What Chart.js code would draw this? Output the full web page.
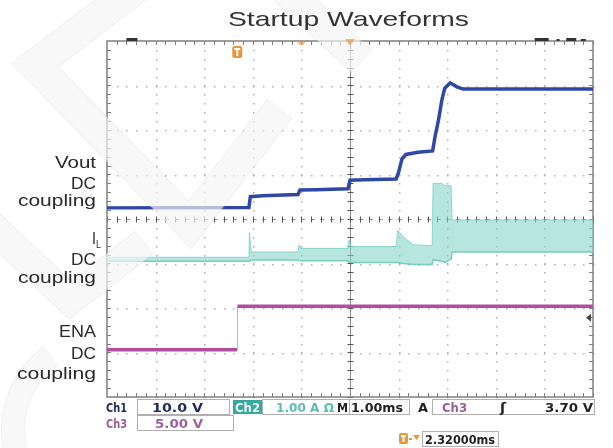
<!DOCTYPE html>
<html><head><meta charset="utf-8">
<script src="https://cdn.jsdelivr.net/npm/chart.js@4.4.1/dist/chart.umd.min.js"></script>
<style>html,body{margin:0;padding:0;background:#fff;}#wrap{width:613px;height:448px;position:relative;}</style>
</head><body><div id="wrap"><canvas id="c" width="613" height="448"></canvas></div>
<script>
// Horizontal: time in ms (1.00 ms/div, 10 div). Vertical: screen divisions from centre (8 div).
const voutTime = [0, 2.92, 2.95, 3.2, 3.93, 3.97, 4.3, 4.96, 5.0, 5.3, 5.95, 6.0, 6.07, 6.15, 6.4, 6.7, 6.75, 6.82, 6.89, 6.95, 7.06, 7.2, 7.33, 10];
const voutDiv  = [0.25, 0.26, 0.50, 0.52, 0.55, 0.65, 0.66, 0.68, 0.87, 0.88, 0.90, 1.05, 1.35, 1.45, 1.50, 1.53, 1.85, 2.22, 2.67, 2.94, 3.06, 2.97, 2.92, 2.92];

const ilTime  = [0, 2.92, 2.93, 2.97, 3.93, 3.95, 3.99, 4.96, 4.98, 5.02, 5.95, 5.98, 6.1, 6.3, 6.69, 6.71, 6.90, 6.95, 7.08, 7.10, 10];
const ilUpper = [-0.86, -0.86, -0.31, -0.74, -0.74, -0.58, -0.66, -0.66, -0.47, -0.62, -0.62, -0.25, -0.40, -0.58, -0.60, 0.80, 0.80, 0.75, 0.75, -0.02, -0.02];
const ilLower = [-0.95, -0.95, -0.95, -0.92, -0.92, -0.93, -0.94, -0.94, -0.97, -0.98, -0.98, -0.98, -1.00, -1.02, -1.02, -0.92, -0.95, -0.98, -0.90, -0.74, -0.74];

const enaTime = [0, 2.675, 2.685, 10];
const enaDiv  = [-2.94, -2.94, -1.96, -1.96];

const triggerTime = 2.68;     // T marker
const triggerLevelDiv = -2.22; // Ch3 trigger level arrow (3.70 V)

const titleText = 'Startup Waveforms';
const readout = {
  ch1: '10.0 V', ch2: '1.00 A \u03A9', time: '1.00ms', trigSrc: 'Ch3', trigLvl: '3.70 V',
  ch3: '5.00 V', pos: '2.32000ms'
};

const pts = (xs, ys) => xs.map((x, i) => ({x, y: ys[i]}));

function txt(ctx, s, x, y, font, color, w, align) {
  ctx.save();
  ctx.font = font;
  const m = ctx.measureText(s).width;
  const sx = w ? w / m : 1;
  ctx.translate(x, y);
  ctx.scale(sx, 1);
  ctx.textAlign = align || 'left';
  ctx.textBaseline = 'alphabetic';
  ctx.fillStyle = color;
  ctx.fillText(s, 0, 0);
  ctx.restore();
}

const scopeGrid = {
  id: 'scopeGrid',
  beforeDatasetsDraw(chart) {
    const {ctx, chartArea: a, scales: {x, y}} = chart;
    ctx.save();
    ctx.fillStyle = '#b0b0b0';
    for (let k = 1; k < 10; k++) {
      if (k === 5) continue;
      const px = Math.round(x.getPixelForValue(k));
      for (let v = -4; v <= 4.001; v += 0.2) {
        const py = Math.round(y.getPixelForValue(v));
        ctx.fillRect(px, py, 1.5, 1.5);
      }
    }
    for (let k = -3; k <= 3; k++) {
      if (k === 0) continue;
      const py = Math.round(y.getPixelForValue(k));
      for (let t = 0; t <= 10.001; t += 0.2) {
        const px = Math.round(x.getPixelForValue(t));
        ctx.fillRect(px, py, 1.5, 1.5);
      }
    }
    const cx = Math.round(x.getPixelForValue(5)) + 0.5;
    const cy = Math.round(y.getPixelForValue(0)) + 0.5;
    ctx.strokeStyle = '#8a8a8a';
    ctx.lineWidth = 1;
    ctx.beginPath(); ctx.moveTo(cx, a.top); ctx.lineTo(cx, a.bottom); ctx.stroke();
    ctx.setLineDash([4, 5.7]);
    ctx.beginPath(); ctx.moveTo(a.left, cy); ctx.lineTo(a.right, cy); ctx.stroke();
    ctx.setLineDash([]);
    ctx.strokeStyle = '#555';
    for (let v = -4; v <= 4.001; v += 0.2) {
      const py = Math.round(y.getPixelForValue(v)) + 0.5;
      ctx.beginPath(); ctx.moveTo(cx - 3, py); ctx.lineTo(cx + 3, py); ctx.stroke();
    }
    for (let t = 0; t <= 10.001; t += 0.2) {
      const px = Math.round(x.getPixelForValue(t)) + 0.5;
      ctx.beginPath(); ctx.moveTo(px, cy - 3); ctx.lineTo(px, cy + 3); ctx.stroke();
    }
    ctx.strokeStyle = '#808080';
    ctx.lineWidth = 1.5;
    ctx.strokeRect(a.left, a.top, a.right - a.left, a.bottom - a.top);
    ctx.lineWidth = 1;
    for (let t = 0.2; t < 10; t += 0.2) {
      const px = Math.round(x.getPixelForValue(t)) + 0.5;
      ctx.beginPath(); ctx.moveTo(px, a.top); ctx.lineTo(px, a.top + 4); ctx.stroke();
      ctx.beginPath(); ctx.moveTo(px, a.bottom); ctx.lineTo(px, a.bottom - 4); ctx.stroke();
    }
    for (let v = -3.8; v < 4; v += 0.2) {
      const py = Math.round(y.getPixelForValue(v)) + 0.5;
      ctx.beginPath(); ctx.moveTo(a.left, py); ctx.lineTo(a.left + 4, py); ctx.stroke();
      ctx.beginPath(); ctx.moveTo(a.right, py); ctx.lineTo(a.right - 4, py); ctx.stroke();
    }
    ctx.restore();
  },
  afterDraw(chart) {
    const {ctx, chartArea: a, scales: {x, y}} = chart;
    ctx.save();
    // watermark overlay first (translucent), text drawn on top stays crisp
    const band = (path, w) => {
      ctx.lineJoin = 'miter'; ctx.lineCap = 'butt';
      const trace = () => { ctx.beginPath(); path.forEach((p, i) => i ? ctx.lineTo(p[0], p[1]) : ctx.moveTo(p[0], p[1])); };
      trace(); ctx.strokeStyle = 'rgba(205,205,205,0.5)'; ctx.lineWidth = w + 2; ctx.stroke();
      trace(); ctx.strokeStyle = 'rgba(255,255,255,0.9)'; ctx.lineWidth = w; ctx.stroke();
    };
    ctx.globalAlpha = 0.6;
    band([[140, -15], [35, 65], [190, 225], [280, 108]], 30);
    band([[285, -10], [362, 62]], 29);
    band([[-20, 215], [70, 300], [145, 242]], 28);
    ctx.beginPath(); ctx.arc(105, 430, 92, Math.PI * 0.62, Math.PI * 1.3);
    ctx.strokeStyle = 'rgba(205,205,205,0.5)'; ctx.lineWidth = 24; ctx.stroke();
    ctx.beginPath(); ctx.arc(105, 430, 92, Math.PI * 0.62, Math.PI * 1.3);
    ctx.strokeStyle = 'rgba(255,255,255,0.9)'; ctx.lineWidth = 22; ctx.stroke();
    ctx.globalAlpha = 1;

    const sans = '"Liberation Sans", Arial, sans-serif';
    txt(ctx, titleText, 228, 26, '21px ' + sans, '#333', 241, 'left');
    const lab = '17px ' + sans, lc = '#2a2a2a';
    txt(ctx, 'Vout', 96, 168, lab, lc, 41, 'right');
    txt(ctx, 'DC', 96, 189, lab, lc, 25, 'right');
    txt(ctx, 'coupling', 96, 206, lab, lc, 78, 'right');
    txt(ctx, 'I', 96, 244, lab, lc, 4, 'right');
    txt(ctx, 'L', 101, 248, '10px ' + sans, lc, 5, 'right');
    txt(ctx, 'DC', 96, 265, lab, lc, 25, 'right');
    txt(ctx, 'coupling', 96, 283, lab, lc, 78, 'right');
    txt(ctx, 'ENA', 96, 337, lab, lc, 37, 'right');
    txt(ctx, 'DC', 96, 359, lab, lc, 25, 'right');
    txt(ctx, 'coupling', 96, 379, lab, lc, 79, 'right');

    const tx = x.getPixelForValue(triggerTime);
    ctx.fillStyle = '#e8963a';
    ctx.beginPath(); ctx.roundRect(tx - 5, a.top + 5, 10, 12, 2); ctx.fill();
    ctx.fillStyle = '#fff';
    ctx.fillRect(tx - 3, a.top + 7, 6, 2); ctx.fillRect(tx - 1, a.top + 7, 2, 8);
    ctx.fillStyle = 'rgba(232,150,58,0.6)';
    ctx.beginPath(); ctx.arc(x.getPixelForValue(4), a.top, 4, 0, Math.PI); ctx.fill();
    ctx.beginPath(); ctx.moveTo(x.getPixelForValue(5) - 5, a.top - 2); ctx.lineTo(x.getPixelForValue(5) + 5, a.top - 2); ctx.lineTo(x.getPixelForValue(5), a.top + 5); ctx.fill();
    ctx.fillStyle = '#333';
    ctx.fillRect(x.getPixelForValue(0.4), a.top - 3, 11, 3);
    ctx.fillRect(x.getPixelForValue(8.8), a.top - 3, 14, 3);
    ctx.fillRect(x.getPixelForValue(9.25), a.top - 2, 3, 2);
    ctx.fillRect(x.getPixelForValue(9.45), a.top - 3, 10, 3);
    ctx.fillRect(x.getPixelForValue(9.75), a.top - 2, 5, 2);
    const ly = y.getPixelForValue(triggerLevelDiv);
    ctx.fillStyle = '#444';
    ctx.beginPath(); ctx.moveTo(a.right - 7, ly); ctx.lineTo(a.right - 2, ly - 4); ctx.lineTo(a.right - 2, ly + 4); ctx.fill();

    const ro = 'bold 13px "DejaVu Sans", sans-serif';
    ctx.strokeStyle = '#b0b0b0'; ctx.lineWidth = 1;
    ctx.strokeRect(137.5, 399.5, 92, 15);
    ctx.strokeRect(262.5, 399.5, 87, 15);
    ctx.strokeRect(349.5, 399.5, 60, 15);
    ctx.strokeRect(432.5, 399.5, 162, 15);
    ctx.strokeRect(137.5, 415.5, 96, 15);
    ctx.strokeRect(422.5, 431.5, 76, 15);
    txt(ctx, 'Ch1', 106, 412, ro, '#232a5e', 21);
    txt(ctx, readout.ch1, 152, 412, ro, '#232a5e', 51);
    ctx.fillStyle = '#3aa6a0'; ctx.fillRect(233, 400, 29, 14);
    txt(ctx, 'Ch2', 235, 412, ro, '#e8f8f6', 25);
    txt(ctx, readout.ch2, 276, 412, ro, '#5cbdb4', 58);
    txt(ctx, 'M', 337, 412, ro, '#222', 11);
    txt(ctx, readout.time, 351, 412, ro, '#222', 52);
    txt(ctx, 'A', 418, 412, ro, '#222', 10);
    txt(ctx, readout.trigSrc, 442, 412, ro, '#9a5a98', 25);
    txt(ctx, '\u0283', 500, 412, ro, '#222', 6);
    txt(ctx, readout.trigLvl, 545, 412, ro, '#222', 48);
    txt(ctx, 'Ch3', 106, 428, ro, '#9a5a98', 21);
    txt(ctx, readout.ch3, 155, 428, ro, '#a0609d', 48);
    ctx.fillStyle = '#e8963a';
    ctx.beginPath(); ctx.roundRect(399, 433, 9, 11, 2); ctx.fill();
    ctx.fillStyle = '#fff'; ctx.fillRect(401, 435, 5, 2); ctx.fillRect(402.5, 435, 2, 7);
    ctx.fillStyle = '#e8963a';
    ctx.fillRect(409, 438, 3, 2);
    ctx.beginPath(); ctx.moveTo(413, 435); ctx.lineTo(420, 435); ctx.lineTo(416.5, 440); ctx.fill();
    txt(ctx, readout.pos, 425, 444, ro, '#222', 70);
    ctx.restore();
  }
};

new Chart(document.getElementById('c'), {
  type: 'line',
  data: {
    datasets: [
      {label: 'ENA', data: pts(enaTime, enaDiv), borderColor: '#b34e9f', borderWidth: 3.5, pointRadius: 0,
       segment: {borderWidth: c => Math.abs(c.p1.parsed.x - c.p0.parsed.x) < 0.05 ? 1 : 3.5,
                 borderColor: c => Math.abs(c.p1.parsed.x - c.p0.parsed.x) < 0.05 ? '#d9a6d0' : '#b34e9f'}},
      {label: 'IL upper', data: pts(ilTime, ilUpper), borderColor: 'rgba(120,208,196,0.8)', borderWidth: 1, pointRadius: 0, fill: false},
      {label: 'IL lower', data: pts(ilTime, ilLower), borderColor: 'rgba(110,200,188,0.9)', borderWidth: 1.5, pointRadius: 0,
       fill: '-1', backgroundColor: 'rgba(135,214,203,0.6)'},
      {label: 'Vout', data: pts(voutTime, voutDiv), borderColor: '#2f47a5', borderWidth: 3.5, pointRadius: 0}
    ]
  },
  options: {
    responsive: false, animation: false, devicePixelRatio: 1,
    layout: {padding: {left: 107, top: 41, right: 20, bottom: 51}},
    scales: {
      x: {type: 'linear', min: 0, max: 10, display: false},
      y: {min: -4, max: 4, display: false}
    },
    plugins: {legend: {display: false}, tooltip: {enabled: false}, title: {display: false}}
  },
  plugins: [scopeGrid]
});
</script>
</body></html>
